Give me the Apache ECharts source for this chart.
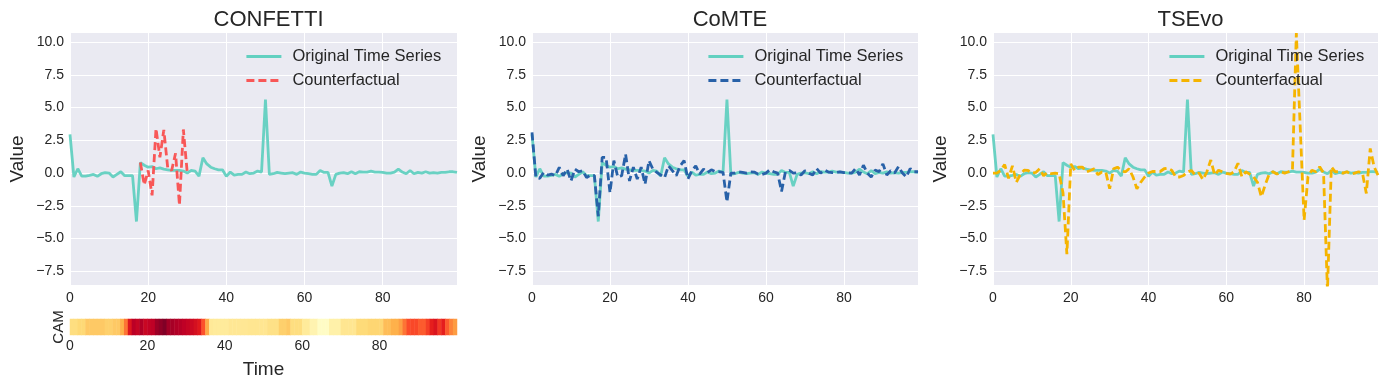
<!DOCTYPE html>
<html>
<head>
<meta charset="utf-8">
<script src="https://cdn.jsdelivr.net/npm/echarts@6/dist/echarts.min.js"></script>
<style>
html,body{margin:0;padding:0;background:#ffffff;}
#chart{width:1389px;height:389px;}
</style>
</head>
<body>
<div id="chart"></div>
<script>
// ---- data ----
const panelTitles = ['CONFETTI', 'CoMTE', 'TSEvo'];
const yTicks = [-7.5, -5, -2.5, 0, 2.5, 5, 7.5, 10];
const xTicks = [0, 20, 40, 60, 80];

const original = [
  2.95,-0.3,0.33,-0.23,-0.23,-0.18,-0.1,-0.25,-0.05,0.03,
  0,-0.3,-0.1,0.1,-0.2,-0.2,-0.2,-3.7,0.8,0.6,
  0.45,0.5,0.33,0.4,0.3,0.25,0.2,0.2,0.2,0.15,
  0,0.2,0.15,-0.23,1.17,0.7,0.45,0.33,0.25,0.25,
  -0.25,0.08,-0.15,-0.1,-0.1,0.08,-0.05,0,0.15,0.08,
  5.62,-0.1,-0.05,0.05,0,-0.05,0,0.03,-0.1,0.08,
  0,-0.05,-0.1,-0.1,0.2,0.05,0.05,-1.0,-0.1,0,
  0.03,-0.05,0.1,-0.05,0.1,0.08,0.08,0.15,0.08,0.08,
  0.05,0,0,0.08,0.3,0.08,-0.05,0.2,-0.05,0.05,
  0,0.1,0,0.03,0,0.05,0.05,0.1,0.1,0.05
];

const confetti = [
  null,null,null,null,null,null,null,null,null,null,
  null,null,null,null,null,null,null,null,0.8,-0.9,
  0.2,-1.7,3.4,1.2,3.3,0.4,0.2,1.5,-2.45,3.33,
  0.0,null,null,null,null,null,null,null,null,null,
  null,null,null,null,null,null,null,null,null,null,
  null,null,null,null,null,null,null,null,null,null,
  null,null,null,null,null,null,null,null,null,null,
  null,null,null,null,null,null,null,null,null,null,
  null,null,null,null,null,null,null,null,null,null,
  null,null,null,null,null,null,null,null,null,null
];

const comte = [
  3.1,-0.35,-0.4,0.05,-0.15,-0.08,-0.2,0.43,-0.2,0.3,
  -0.6,0.3,0.1,0.18,-0.35,-0.15,-0.2,-3.3,1.2,1.2,
  -1.5,0.95,-0.3,-0.2,1.45,-0.6,0.45,-0.45,0.45,-0.85,
  0.95,0.3,0.05,-0.15,-0.35,0.55,0.18,-0.2,0.55,0.95,
  -0.45,0.18,0.55,-0.08,0.3,0.05,0.25,0.1,0.1,0.05,
  -2.2,0,0,0.1,0.05,0,0.1,0.08,-0.08,-0.1,
  0,0.25,0.1,0,-1.4,0.1,0.2,0,0.03,-0.15,
  0.18,0,-0.15,0.35,0,0.23,0.08,0.03,0.03,0.1,
  0.03,0.03,0,0.35,-0.15,0.6,0,-0.3,0.23,0.1,
  0.7,-0.15,0.18,0,0.5,0,-0.3,0.35,0.1,0.1
];

const tsevo = [
  0,0,0.2,0.65,-0.4,0.55,-0.7,-0.12,0.22,0.2,
  0,0.05,0.33,-0.2,0.05,-0.05,0,-0.05,-1.5,-6.2,
  0.7,0.2,0.45,0.45,0.08,0.2,0.33,-0.12,0.08,0.08,
  -1.2,0.33,0.45,0.2,0.08,0.33,-0.3,-1.2,-0.7,-0.3,
  0,0.12,0.12,0.12,0.33,0.38,0.2,-0.3,-0.3,-0.18,
  0.08,0.2,-0.15,0,-0.5,0.1,1.0,-0.15,0.22,0.1,
  -0.03,-0.08,0.1,0.75,-0.28,0.1,-0.08,-0.3,-0.7,-1.8,
  -0.9,-0.1,0.1,-0.08,0.1,0,0.1,0.22,10.7,3.5,
  -3.6,-0.28,0.22,0.1,0.48,0,-9.0,0.48,0.1,0.1,
  0,0.1,-0.08,0,0.1,0,-1.55,1.88,0.48,-0.15
];

const cam = [
  0.22,0.22,0.25,0.25,0.3,0.3,0.3,0.3,0.3,0.28,
  0.28,0.3,0.3,0.38,0.55,0.77,0.88,0.85,0.9,0.84,
  0.86,0.87,0.94,0.97,1.0,0.93,0.92,0.9,0.89,0.87,
  0.85,0.83,0.8,0.76,0.62,0.4,0.15,0.14,0.14,0.14,
  0.14,0.16,0.16,0.16,0.16,0.16,0.17,0.17,0.17,0.17,
  0.17,0.2,0.2,0.2,0.28,0.28,0.3,0.22,0.22,0.22,
  0.14,0.14,0.08,0.08,0.02,0.02,0.02,0.1,0.1,0.1,
  0.17,0.17,0.17,0.17,0.24,0.24,0.24,0.26,0.26,0.26,
  0.26,0.34,0.34,0.38,0.38,0.44,0.55,0.63,0.64,0.64,
  0.6,0.6,0.66,0.74,0.78,0.68,0.74,0.6,0.52,0.45
];

// ---- styling ----
const FONT = '"Liberation Sans", Arial, sans-serif';
const TXT = '#262626';
const BG = '#eaeaf2';
const TEAL = '#62d0c0';
const cfColors = ['#f85757', '#2861a8', '#f5b400'];
const DASH = [8, 4];
const LW = 2.8;
const Y_MIN = -8.55, Y_MAX = 10.7;

const grids = [
  {left: 70, top: 33, width: 387, height: 252},
  {left: 532, top: 33, width: 386, height: 252},
  {left: 993, top: 33, width: 385, height: 252},
  {left: 70, top: 319, width: 387, height: 16}
];

function fmtY(v) {
  const s = Math.abs(v).toFixed(1);
  return v < 0 ? '\u2212' + s : s;
}

const xAxes = [];
const yAxes = [];
for (let p = 0; p < 3; p++) {
  xAxes.push({
    type: 'value', gridIndex: p, min: 0, max: 99, interval: 20, position: 'bottom',
    axisLine: {show: false}, axisTick: {show: false},
    axisLabel: {color: TXT, fontSize: 14, fontFamily: FONT, margin: 6, showMaxLabel: false},
    splitLine: {show: true, lineStyle: {color: '#ffffff', width: 1}}
  });
  yAxes.push({
    type: 'value', gridIndex: p, min: Y_MIN, max: Y_MAX,
    name: 'Value', nameLocation: 'middle', nameGap: 43,
    nameTextStyle: {color: TXT, fontSize: 19, fontFamily: FONT},
    axisLine: {show: false},
    axisTick: {show: false, customValues: yTicks},
    axisLabel: {color: TXT, fontSize: 14, fontFamily: FONT, margin: 6, customValues: yTicks, formatter: fmtY},
    splitLine: {show: true, lineStyle: {color: '#ffffff', width: 1}}
  });
}
// CAM heatmap axes
const camCats = cam.map((_, i) => String(i));
xAxes.push({
  type: 'category', gridIndex: 3, data: camCats, show: false, position: 'top'
});
xAxes.push({
  type: 'value', gridIndex: 3, min: 0, max: 100, interval: 20, position: 'bottom', offset: 0,
  name: 'Time', nameLocation: 'middle', nameGap: 25,
  nameTextStyle: {color: TXT, fontSize: 19, fontFamily: FONT},
  axisLine: {show: false}, axisTick: {show: false}, splitLine: {show: false},
  axisLabel: {color: TXT, fontSize: 14, fontFamily: FONT, margin: 4, showMaxLabel: false}
});
yAxes.push({
  type: 'category', gridIndex: 3, data: ['CAM'],
  name: 'CAM', nameLocation: 'middle', nameGap: 4,
  nameTextStyle: {color: TXT, fontSize: 15, fontFamily: FONT},
  axisLine: {show: false}, axisTick: {show: false}, axisLabel: {show: false}, splitLine: {show: false}
});

const cfSeries = [confetti, comte, tsevo];
const series = [];
for (let p = 0; p < 3; p++) {
  series.push({
    type: 'line', name: 'Original Time Series', xAxisIndex: p, yAxisIndex: p,
    data: original.map((v, i) => [i, v]),
    showSymbol: false, symbol: 'none', animation: false, z: 2,
    lineStyle: {color: TEAL, width: LW, opacity: 0.95}, itemStyle: {color: TEAL}
  });
  series.push({
    type: 'line', name: 'Counterfactual', xAxisIndex: p, yAxisIndex: p,
    data: cfSeries[p].map((v, i) => [i, v]),
    showSymbol: false, symbol: 'none', animation: false, z: 3, connectNulls: false,
    lineStyle: {color: cfColors[p], width: LW, type: DASH}, itemStyle: {color: cfColors[p]}
  });
}
series.push({
  type: 'heatmap', name: 'CAM', xAxisIndex: 3, yAxisIndex: 3,
  data: cam.map((v, i) => [i, 0, v]), animation: false,
  itemStyle: {borderWidth: 0}
});

const legendLefts = [240, 702, 1163];
const legends = legendLefts.map((lx, p) => ({
  left: lx, top: 43, orient: 'vertical', itemWidth: 35, itemHeight: 14, itemGap: 7,
  textStyle: {color: TXT, fontSize: 16.5, fontFamily: FONT, padding: [0, 0, 0, 6]},
  selectedMode: false,
  data: [
    {name: 'Original Time Series',
     itemStyle: {opacity: 0, borderWidth: 0},
     lineStyle: {color: TEAL, width: LW, type: 'solid', opacity: 1}},
    {name: 'Counterfactual',
     itemStyle: {opacity: 0, borderWidth: 0},
     lineStyle: {color: cfColors[p], width: LW, type: DASH, opacity: 1}}
  ]
}));

const titles = panelTitles.map((t, p) => ({
  text: t, left: grids[p].left + grids[p].width / 2, top: 4, textAlign: 'center',
  textStyle: {color: TXT, fontSize: 22, fontWeight: 'normal', fontFamily: FONT}
}));

const chart = echarts.init(document.getElementById('chart'), null, {renderer: 'canvas'});
chart.setOption({
  backgroundColor: '#ffffff',
  animation: false,
  title: titles,
  legend: legends,
  grid: grids.map((g, i) => Object.assign({}, g, {show: i < 3, backgroundColor: BG, borderWidth: 0, containLabel: false})),
  xAxis: xAxes,
  yAxis: yAxes,
  visualMap: {
    show: false, type: 'continuous', min: 0, max: 1, seriesIndex: 6, dimension: 2,
    inRange: {color: ['#ffffcc','#ffeda0','#fed976','#feb24c','#fd8d3c','#fc4e2a','#e31a1c','#bd0026','#800026']}
  },
  series: series
});
</script>
</body>
</html>
